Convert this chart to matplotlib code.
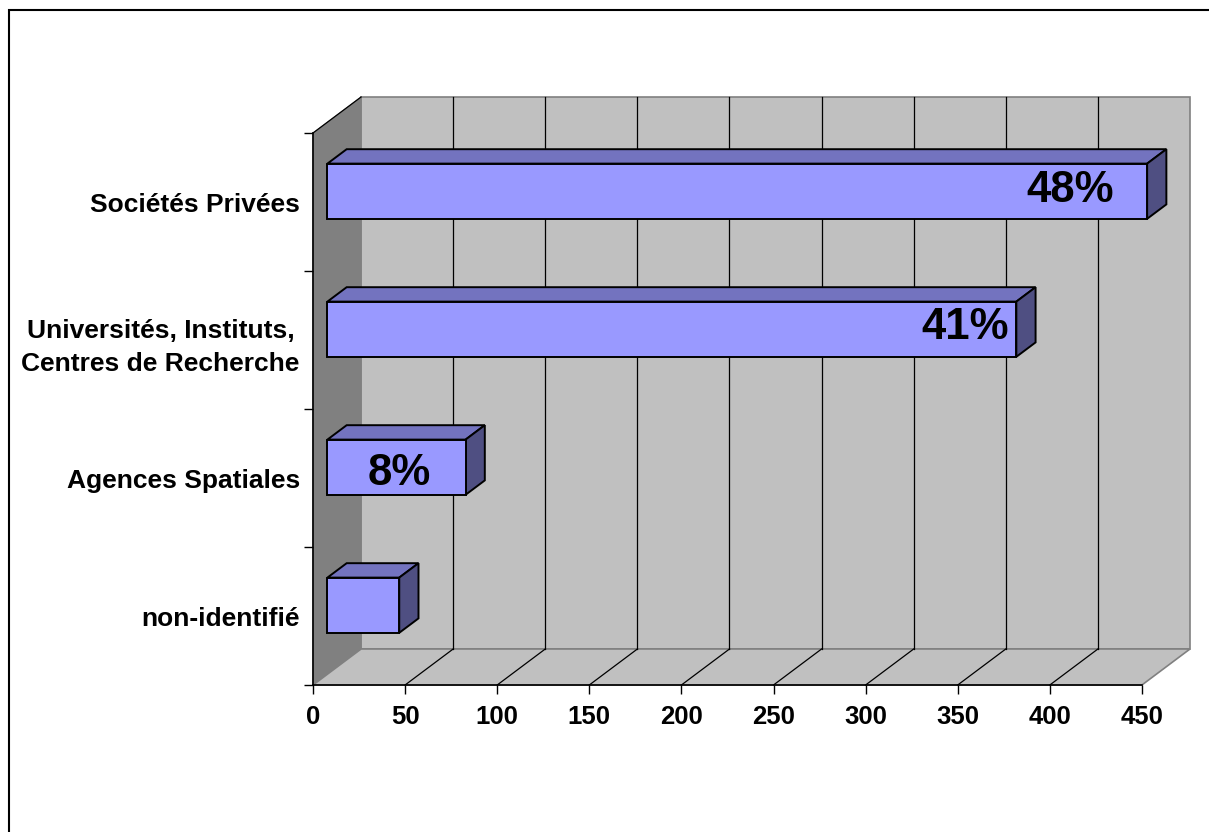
import matplotlib.pyplot as plt
from matplotlib.patches import Polygon, Rectangle

# Respondents by type of organisation
categories = ['non-identifié', 'Agences Spatiales',
              'Universités, Instituts,\nCentres de Recherche',
              'Sociétés Privées']
counts = [39, 75, 374, 445]
share_labels = ['', '8%', '41%', '48%']
x_ticks = [0, 50, 100, 150, 200, 250, 300, 350, 400, 450]

plt.rcParams['font.family'] = ['Liberation Sans', 'DejaVu Sans']

W, H = 1209, 832
X_MAX = x_ticks[-1]
N = len(categories)
# oblique depth of the box (data units) and where the bars sit inside it
DX, DY = 26.1, 0.261
D0, D1 = 0.3, 0.7
BAR_H = 0.4

fig = plt.figure(figsize=(W / 100, H / 100), dpi=100)
ax = fig.add_axes([313 / W, 1 - 685 / H, (1190 - 313) / W, (685 - 97) / H])
ax.set_xlim(0, X_MAX + DX)
ax.set_ylim(0, N + DY)
ax.patch.set_visible(False)


def face(pts, fc, ec, lw=0.8, z=1):
    ax.add_patch(Polygon(pts, closed=True, facecolor=fc, edgecolor=ec,
                         linewidth=lw, zorder=z, clip_on=False))


# walls and floor
face([(DX, DY), (X_MAX + DX, DY), (X_MAX + DX, N + DY), (DX, N + DY)],
     '#C0C0C0', '#808080', lw=1.2)
face([(0, 0), (DX, DY), (DX, N + DY), (0, N)], '#808080', '#808080')
face([(0, 0), (X_MAX, 0), (X_MAX + DX, DY), (DX, DY)], '#C0C0C0', '#808080',
     lw=1.2)
ax.plot([0, DX], [N, N + DY], color='black', lw=0.9, zorder=2,
        clip_on=False)

# gridlines on the back wall and the floor
for t in x_ticks[1:-1]:
    ax.plot([t + DX, t + DX], [DY, N + DY], color='black', lw=0.9,
            zorder=2, clip_on=False)
    ax.plot([t, t + DX], [0, DY], color='black', lw=0.9, zorder=2,
            clip_on=False)

# 3-D bars
for i, v in enumerate(counts):
    y0 = i + 0.5 - BAR_H / 2
    y1 = i + 0.5 + BAR_H / 2
    fx, fy = D0 * DX, D0 * DY
    bx, by = D1 * DX, D1 * DY
    face([(fx, y1 + fy), (v + fx, y1 + fy), (v + bx, y1 + by),
          (bx, y1 + by)], '#7373BF', 'black', lw=1.4, z=3)
    face([(v + fx, y0 + fy), (v + bx, y0 + by), (v + bx, y1 + by),
          (v + fx, y1 + fy)], '#4F4F82', 'black', lw=1.4, z=3)
    face([(fx, y0 + fy), (v + fx, y0 + fy), (v + fx, y1 + fy),
          (fx, y1 + fy)], '#9999FF', 'black', lw=1.4, z=4)

# share labels on the bars
share_pos = [None, (47, 1.53), (354, 2.59), (411, 3.58)]
for lab, pos in zip(share_labels, share_pos):
    if lab:
        ax.text(pos[0], pos[1], lab, ha='center', va='center',
                fontsize=31.5, fontweight='bold', zorder=5)

# axes
for side in ['top', 'right']:
    ax.spines[side].set_visible(False)
ax.spines['bottom'].set_bounds(0, X_MAX)
ax.spines['left'].set_bounds(0, N)
for side in ['bottom', 'left']:
    ax.spines[side].set_linewidth(1.2)
    ax.spines[side].set_zorder(6)

ax.set_xticks(x_ticks)
ax.set_xticklabels([str(t) for t in x_ticks], fontsize=18.5,
                   fontweight='bold')
ax.tick_params(axis='x', direction='out', length=6.5, width=1, pad=8)

ax.set_yticks(range(N + 1))
ax.set_yticklabels([])
ax.set_yticks([i + 0.5 for i in range(N)], minor=True)
ax.set_yticklabels(categories, minor=True, fontsize=19, fontweight='bold',
                   multialignment='center', linespacing=1.5)
ax.tick_params(axis='y', which='major', direction='out', length=6.5,
               width=1)
ax.tick_params(axis='y', which='minor', length=0, pad=9.5)

# frame around the chart area
fig.add_artist(Rectangle((9 / W, -0.5), 2, 0.5 + 1 - 10 / H,
                         transform=fig.transFigure, fill=False,
                         edgecolor='black', linewidth=1.5))

fig.savefig('out.png', dpi=100)
